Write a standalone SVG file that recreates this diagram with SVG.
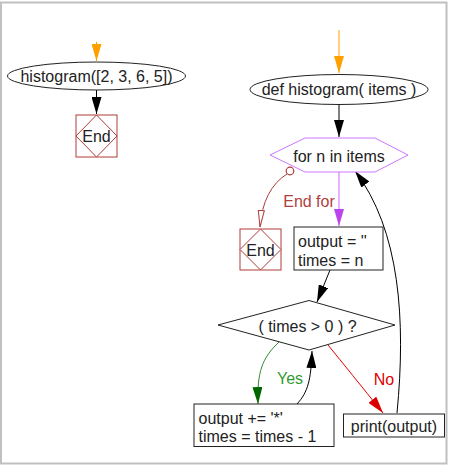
<svg xmlns="http://www.w3.org/2000/svg" width="450" height="466" viewBox="0 0 450 466">
<style>
text{font-family:"Liberation Sans",Arial,sans-serif;font-size:16px;fill:#222}
.c{text-anchor:middle}
.n{fill:#fff;stroke:#222;stroke-width:1}
.e{fill:#fff;stroke:#b03a3a;stroke-width:1}
.l{fill:none;stroke-width:1}
</style>
<defs>
<marker id="ab" markerUnits="userSpaceOnUse" markerWidth="18" markerHeight="10" refX="17" refY="5" orient="auto"><path d="M0,0 L17,5 L0,10 z" fill="#000"/></marker>
<marker id="ao" markerUnits="userSpaceOnUse" markerWidth="18" markerHeight="10" refX="17" refY="5" orient="auto"><path d="M0,0 L17,5 L0,10 z" fill="#ffa000"/></marker>
<marker id="av" markerUnits="userSpaceOnUse" markerWidth="18" markerHeight="10" refX="17" refY="5" orient="auto"><path d="M0,0 L17,5 L0,10 z" fill="#bb44ee"/></marker>
<marker id="ag" markerUnits="userSpaceOnUse" markerWidth="18" markerHeight="10" refX="17" refY="5" orient="auto"><path d="M0,0 L17,5 L0,10 z" fill="#006600"/></marker>
<marker id="ar" markerUnits="userSpaceOnUse" markerWidth="18" markerHeight="10" refX="17" refY="5" orient="auto"><path d="M0,0 L17,5 L0,10 z" fill="#dd0000"/></marker>
<marker id="ae" markerUnits="userSpaceOnUse" markerWidth="19" markerHeight="9" refX="17" refY="4" orient="auto"><path d="M0.5,1 L17,4 L0.5,7 z" fill="#fff" stroke="#b03a3a" stroke-width="1"/></marker>
</defs>
<rect x="1" y="2.5" width="445.5" height="461" fill="#fff" stroke="#c0c0c0" stroke-width="2"/>

<g id="connectors">
<line class="l" x1="96.5" y1="42" x2="96.5" y2="61" stroke="#ffa000" marker-end="url(#ao)"/>
<line class="l" x1="96.5" y1="90" x2="96.5" y2="114" stroke="#000" marker-end="url(#ab)"/>
<line class="l" x1="339" y1="30" x2="339" y2="73" stroke="#ffa000" marker-end="url(#ao)"/>
<line class="l" x1="339" y1="105" x2="339" y2="137" stroke="#000" marker-end="url(#ab)"/>
<line class="l" x1="339" y1="172" x2="339" y2="226" stroke="#cc66ff" marker-end="url(#av)"/>
<path class="l" d="M287,174 Q263,189 260,227" stroke="#b03a3a" marker-end="url(#ae)"/>
<circle cx="290" cy="171" r="3.8" fill="#fff" stroke="#b03a3a" stroke-width="1.2"/>
<line class="l" x1="330" y1="270" x2="317" y2="302" stroke="#000" marker-end="url(#ab)"/>
<path class="l" d="M279,342 C262,358 257,372 258,404" stroke="#338833" marker-end="url(#ag)"/>
<path class="l" d="M297,404 C308,392 311,380 312,351" stroke="#000" marker-end="url(#ab)"/>
<path class="l" d="M328,345 Q350,372 383,413" stroke="#dd0000" marker-end="url(#ar)"/>
<path class="l" d="M397,413 C406,320 400,230 355,171" stroke="#000" marker-end="url(#ab)"/>
<text class="c" x="309" y="207" style="fill:#b04040">End for</text>
<text class="c" x="290" y="384" style="fill:#339933">Yes</text>
<text class="c" x="384" y="385" style="fill:#dd0000">No</text>
</g>

<g id="start1">
<ellipse class="n" cx="96.5" cy="76" rx="89" ry="14"/>
<text class="c" x="96.5" y="82">histogram([2, 3, 6, 5])</text>
</g>
<g id="end1">
<rect class="e" x="76" y="115" width="41" height="42"/>
<polygon class="e" points="96.5,115 117,136 96.5,157 76,136"/>
<text class="c" x="96.5" y="142">End</text>
</g>

<g id="def">
<ellipse class="n" cx="339" cy="89.5" rx="89" ry="15"/>
<text class="c" x="339" y="95">def histogram( items )</text>
</g>
<g id="for">
<polygon points="270,155 305,138 375,138 408,155 375,172 305,172" fill="#fff" stroke="#cc77ff" stroke-width="1"/>
<text class="c" x="339" y="161.5">for n in items</text>
</g>
<g id="end2">
<rect class="e" x="240" y="229" width="41" height="41"/>
<polygon class="e" points="260.5,229 281,249.5 260.5,270 240,249.5"/>
<text class="c" x="260.5" y="256">End</text>
</g>
<g id="init">
<rect class="n" x="294" y="227" width="89" height="43"/>
<text x="298" y="247">output = ''</text>
<text x="298" y="266">times = n</text>
</g>
<g id="cond">
<polygon class="n" points="218,325 309,300.5 395,325 309,350"/>
<text class="c" x="307.5" y="332">( times &gt; 0 ) ?</text>
</g>
<g id="body">
<rect class="n" x="194" y="404" width="140" height="42.5"/>
<text x="198.5" y="424">output += '*'</text>
<text x="198.5" y="442">times = times - 1</text>
</g>
<g id="print">
<rect class="n" x="343.5" y="414" width="101" height="23"/>
<text class="c" x="394" y="431.5">print(output)</text>
</g>
</svg>
